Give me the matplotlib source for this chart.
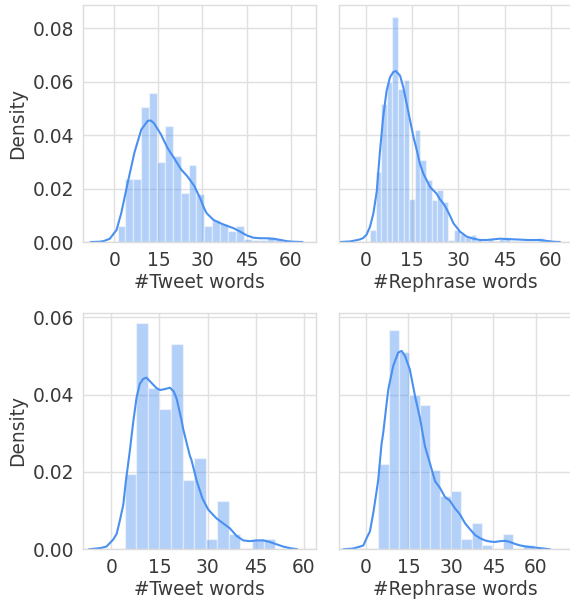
import matplotlib
matplotlib.use("Agg")
import matplotlib.pyplot as plt
import seaborn as sns
import numpy as np

# ---------------- data ----------------
x_ticks = [0, 15, 30, 45, 60]
top_yticks = [0.00, 0.02, 0.04, 0.06, 0.08]
bottom_yticks = [0.00, 0.02, 0.04, 0.06]

# top-left: #Tweet words
tl_bin_start = 1.15
tl_bin_width = 2.68
tl_heights = [0.0061, 0.0235, 0.0235, 0.0505, 0.0558, 0.0300, 0.0435, 0.0323,
              0.0184, 0.0288, 0.0180, 0.0060, 0.0082, 0.0066, 0.0040, 0.0060,
              0.0013, 0.0008, 0.0008, 0.0020, 0.0010]
tl_kde_x = [-8, -5, -3.7, -1.5, 0.8, 2.4, 4.6, 6.9, 9.2, 11.4, 12.5, 13.6, 15.9,
            18.1, 20.4, 22.7, 24.9, 27.2, 29.3, 30.3, 31.4, 33.7, 35.9, 38.2,
            40.5, 42.8, 45.0, 47.3, 49.6, 51.9, 54.1, 56.4, 58.7, 61, 64]
tl_kde_y = [0, 0.0001, 0.0003, 0.0012, 0.0045, 0.0108, 0.0222, 0.0335, 0.0420,
            0.0453, 0.0454, 0.0443, 0.0402, 0.0352, 0.0313, 0.0272, 0.0245,
            0.0210, 0.0162, 0.0133, 0.0108, 0.0083, 0.0071, 0.0061, 0.0052,
            0.0039, 0.0025, 0.0016, 0.0014, 0.0014, 0.0012, 0.0008, 0.0003,
            0.0001, 0]

# top-right: #Rephrase words
tr_bin_start = 1.3
tr_bin_width = 1.82
tr_heights = [0.0045, 0.0261, 0.0517, 0.0599, 0.0840, 0.0573, 0.0604, 0.0161,
              0.0417, 0.0306, 0.0231, 0.0157, 0.0194, 0.0150, 0.0007, 0.0045,
              0.0030, 0.0020, 0.0026, 0.0008, 0.0005, 0.0010, 0.0005, 0.0010,
              0.0020, 0.0005, 0.0005, 0.0005, 0.0005, 0.0005, 0.0015, 0.0005]
tr_kde_x = [-8.5, -5.2, -3.0, -1.9, -0.9, 0.2, 1.3, 2.4, 3.5, 4.5, 5.6, 6.7, 7.8,
            8.9, 9.7, 11.05, 12.1, 13.2, 14.3, 15.4, 16.5, 17.5, 18.6, 19.7,
            20.8, 21.8, 22.9, 24.0, 25.1, 26.2, 27.2, 28.4, 30.5, 32.7, 34.9,
            37.0, 39.2, 41.4, 43.5, 45.7, 47.9, 50, 52.2, 54.4, 56.5, 58.7,
            60.9, 63]
tr_kde_y = [0, 0.0002, 0.0007, 0.0010, 0.0015, 0.0028, 0.0057, 0.0107, 0.0190,
            0.0335, 0.0470, 0.0566, 0.0616, 0.0636, 0.0639, 0.0622, 0.0579,
            0.0517, 0.0455, 0.0393, 0.0343, 0.0293, 0.0256, 0.0231, 0.0206,
            0.0194, 0.0181, 0.0160, 0.0144, 0.0123, 0.0100, 0.0070, 0.0039,
            0.0020, 0.00125, 0.00075, 0.00075, 0.0010, 0.00125, 0.0011, 0.0010,
            0.0009, 0.00075, 0.00075, 0.00075, 0.0004, 0.0001, 0]

# bottom-left: #Tweet words
bl_bin_start = 4.17
bl_bin_width = 3.61
bl_heights = [0.0194, 0.0585, 0.0417, 0.0362, 0.0530, 0.0180, 0.0236, 0.0027,
              0.0125, 0.0040, 0.0, 0.0026, 0.0026]
bl_kde_x = [-7, -3.5, -1.5, 0.6, 1.7, 2.7, 3.75, 4.5, 5.8, 6.85, 7.9, 8.9, 10.0,
            11.0, 12.6, 14.1, 15.2, 16.5, 18.3, 19.5, 20.4, 21.9, 22.4, 23.5,
            24.5, 25.0, 26.6, 28.4, 30.2, 31.3, 32.8, 34.9, 37.0, 39.0, 41.1,
            43.2, 45.3, 47.4, 49.4, 51.5, 53.6, 55.7, 58]
bl_kde_y = [0, 0.0003, 0.0007, 0.0025, 0.0040, 0.0075, 0.0115, 0.0172, 0.0255,
            0.0329, 0.0393, 0.0428, 0.0441, 0.0444, 0.0430, 0.0417, 0.0412,
            0.0414, 0.0418, 0.0408, 0.0389, 0.0334, 0.0312, 0.0275, 0.0242,
            0.0231, 0.0178, 0.0132, 0.0103, 0.0093, 0.0080, 0.0067, 0.0054,
            0.0035, 0.0023, 0.0021, 0.0023, 0.0023, 0.0019, 0.0013, 0.0007,
            0.0003, 0]

# bottom-right: #Rephrase words
br_bin_start = 4.35
br_bin_width = 3.66
br_heights = [0.0220, 0.0566, 0.0510, 0.0400, 0.0372, 0.0205, 0.0137, 0.0151,
              0.0027, 0.0068, 0.0012, 0.0, 0.0040, 0.0, 0.0011]
br_kde_x = [-8, -4.5, -2.1, -0.9, 0.24, 1.4, 2.6, 3.76, 4.35, 5.5, 6.1, 7.3, 7.9,
            9.65, 11.4, 12.6, 13.8, 15.5, 17.3, 19.1, 20.8, 22.6, 24.4, 26.1,
            27.9, 29.6, 31.4, 33.2, 34.9, 36.7, 38.5, 40.2, 42.0, 43.8, 45.5,
            47.3, 49.1, 50.8, 52.6, 54.4, 56.7, 59.1, 61.4, 65]
br_kde_y = [0, 0.0002, 0.0007, 0.0010, 0.0029, 0.0046, 0.0094, 0.0150, 0.0180,
            0.0272, 0.0301, 0.0377, 0.0414, 0.0475, 0.0509, 0.0513, 0.0500,
            0.0465, 0.0397, 0.0338, 0.0267, 0.0222, 0.0176, 0.0159, 0.0135,
            0.0126, 0.0106, 0.0090, 0.0068, 0.0052, 0.0037, 0.0029, 0.0023,
            0.0020, 0.0019, 0.0021, 0.0022, 0.0019, 0.0014, 0.0010, 0.0007,
            0.0005, 0.0003, 0]

tweet_label = "#Tweet words"
rephrase_label = "#Rephrase words"
y_label = "Density"

# ---------------- style ----------------
sns.set_style("whitegrid")
plt.rcParams["font.family"] = ["DejaVu Sans"]
FS = 13.4
TEXT = "#3a3a3a"
LINE = "#4a90f0"

fig = plt.figure(figsize=(5.70, 6.01), dpi=100)

W = 232.7 / 570
H_TOP = 237.0 / 601
H_BOT = 236.6 / 601
LX = 83.3 / 570
RX = 339.0 / 570
TY = 1 - 242.0 / 601
BY = 1 - 549.3 / 601

panels = [
    (LX, TY, H_TOP, tl_bin_start, tl_bin_width, tl_heights, tl_kde_x, tl_kde_y,
     (-10.5, 68.6), (0, 0.0886), top_yticks, tweet_label, True),
    (RX, TY, H_TOP, tr_bin_start, tr_bin_width, tr_heights, tr_kde_x, tr_kde_y,
     (-8.77, 66.8), (0, 0.0886), top_yticks, rephrase_label, False),
    (LX, BY, H_BOT, bl_bin_start, bl_bin_width, bl_heights, bl_kde_x, bl_kde_y,
     (-8.7, 63.8), (0, 0.0612), bottom_yticks, tweet_label, True),
    (RX, BY, H_BOT, br_bin_start, br_bin_width, br_heights, br_kde_x, br_kde_y,
     (-9.5, 72.6), (0, 0.0612), bottom_yticks, rephrase_label, False),
]

for (lx, by, h, b0, bw, heights, kx, ky, xlim, ylim, yt, xl, show_y) in panels:
    ax = fig.add_axes([lx, by, W, h])
    lefts = b0 + bw * np.arange(len(heights))
    ax.bar(lefts, heights, width=bw, align="edge", color=LINE, alpha=0.42,
           edgecolor="white", linewidth=1.0)
    ax.plot(kx, ky, color=LINE, lw=1.5)
    ax.set_xlim(*xlim)
    ax.set_ylim(*ylim)
    ax.set_xticks(x_ticks)
    ax.set_xticklabels([str(t) for t in x_ticks])
    ax.set_yticks(yt)
    if show_y:
        ax.set_yticklabels([f"{t:.2f}" for t in yt])
        ax.set_ylabel(y_label, fontsize=FS, color=TEXT, labelpad=4)
    else:
        ax.set_yticklabels([])
    ax.set_xlabel(xl, fontsize=FS, color=TEXT, labelpad=2)
    ax.tick_params(axis="both", labelsize=FS, colors=TEXT, length=0, pad=6.5)
    ax.grid(True, color="#e0e0e0", lw=1.0)
    ax.set_axisbelow(True)
    for s in ax.spines.values():
        s.set_color("#dcdcdc")
        s.set_linewidth(1.0)

fig.savefig("out.png", dpi=100)
